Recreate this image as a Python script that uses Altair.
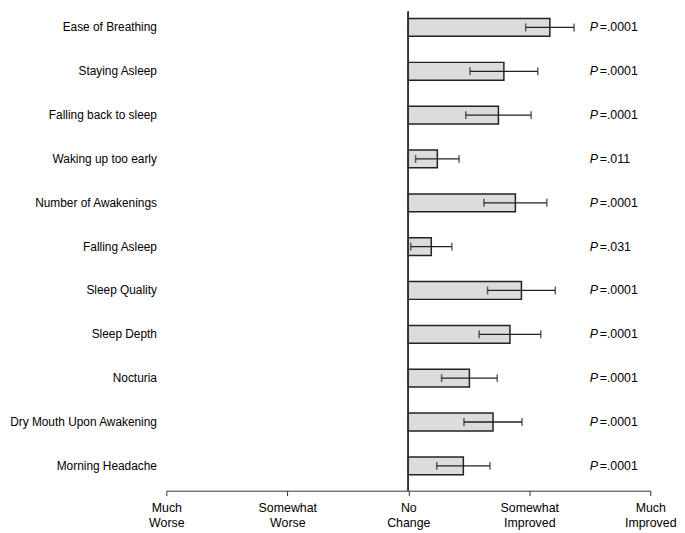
import altair as alt
import pandas as pd

categories = ["Ease of Breathing", "Staying Asleep", "Falling back to sleep",
              "Waking up too early", "Number of Awakenings", "Falling Asleep",
              "Sleep Quality", "Sleep Depth", "Nocturia",
              "Dry Mouth Upon Awakening", "Morning Headache"]
means = [1.17, 0.79, 0.745, 0.24, 0.885, 0.19, 0.935, 0.84, 0.505, 0.70, 0.455]
errors = [0.20, 0.28, 0.27, 0.18, 0.26, 0.17, 0.28, 0.255, 0.23, 0.24, 0.22]
p_values = ["=.0001", "=.0001", "=.0001", "=.011", "=.0001", "=.031",
            "=.0001", "=.0001", "=.0001", "=.0001", "=.0001"]
tick_values = [-2, -1, 0, 1, 2]
tick_labels = [["Much", "Worse"], ["Somewhat", "Worse"], ["No", "Change"],
               ["Somewhat", "Improved"], ["Much", "Improved"]]

df = pd.DataFrame({"cat": categories, "mean": means, "err": errors, "p": p_values})
df["lo"] = df["mean"] - df["err"]
df["hi"] = df["mean"] + df["err"]

FONT = "Liberation Sans"

label_expr = " : ".join(
    f"datum.value == {v} ? {l!r}" for v, l in zip(tick_values, tick_labels)
) + " : ''"

xscale = alt.Scale(domain=[-2, 2], nice=False, zero=False)
yscale = alt.Scale(domain=categories, paddingInner=0.594, paddingOuter=0.26, align=0.30)

x_axis = alt.Axis(values=tick_values, labelExpr=label_expr, grid=False, title=None,
                  domainColor="#333", tickColor="#333", tickSize=5, labelFlush=False,
                  labelFontSize=12.5, labelFont=FONT, labelColor="#000",
                  labelPadding=6, labelLineHeight=15)
y_axis = alt.Axis(title=None, domain=False, ticks=False, labelPadding=10,
                  labelFontSize=12, labelFont=FONT, labelColor="#000", labelLimit=300)

base = alt.Chart(df)

bars = base.mark_bar(fill="#dcdcdc", stroke="#222", strokeWidth=1.5).encode(
    x=alt.X("mean:Q", scale=xscale, axis=x_axis),
    x2=alt.datum(0),
    y=alt.Y("cat:N", scale=yscale, axis=y_axis, sort=categories),
)

zero_rule = base.mark_rule(color="#333", strokeWidth=1).encode(x=alt.datum(0))

err_rule = base.mark_rule(color="#222", strokeWidth=1.3).encode(
    x="lo:Q", x2="hi:Q", y=alt.Y("cat:N", sort=categories))
cap_lo = base.mark_tick(color="#222", thickness=1.5, size=8, orient="vertical").encode(
    x="lo:Q", y=alt.Y("cat:N", sort=categories))
cap_hi = base.mark_tick(color="#222", thickness=1.5, size=8, orient="vertical").encode(
    x="hi:Q", y=alt.Y("cat:N", sort=categories))

p_italic = base.mark_text(align="left", baseline="middle", fontStyle="italic",
                          fontSize=12.5, font=FONT, color="#000").encode(
    x=alt.datum(1.5), y=alt.Y("cat:N", sort=categories), text=alt.value("P"))
p_text = base.mark_text(align="left", baseline="middle", dx=10,
                        fontSize=12.5, font=FONT, color="#000").encode(
    x=alt.datum(1.5), y=alt.Y("cat:N", sort=categories), text="p:N")

chart = alt.layer(bars, zero_rule, err_rule, cap_lo, cap_hi, p_italic, p_text).properties(
    width=489, height=484,
    padding={"left": 0, "top": 0, "right": 0, "bottom": 0},
    background="white",
).configure_view(strokeWidth=0)

chart.save("out.html", embed_options={"renderer": "svg", "actions": False})
